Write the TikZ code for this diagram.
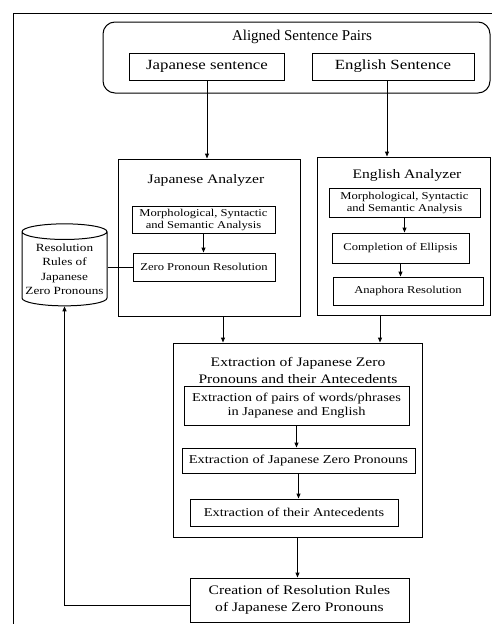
\documentclass[tikz,border=0pt]{standalone}
\usepackage{fontspec}
\setmainfont{Liberation Serif}
\newfontfamily\scanfont{Liberation Serif}[FakeStretch=1.2]
\usetikzlibrary{arrows.meta,shapes.geometric}

\tikzset{
  box/.style = {shape=rectangle, draw, align=center, inner sep=0pt},
  small/.style = {font=\scanfont\fontsize{10.5}{12}\selectfont},
  mid/.style = {font=\scanfont\fontsize{12}{14}\selectfont},
  big/.style = {font=\scanfont\fontsize{13}{17}\selectfont},
  arr/.style = {-{Triangle[length=5pt,width=4pt]}}
}

\begin{document}
\begin{tikzpicture}[x=1pt, y=-1pt, line width=1pt]
  \useasboundingbox (0,0) rectangle (492,624);
  \draw (13,624) -- (13,13) -- (492,13);

  % sentence pairs
  \node[box, rounded corners=12pt, minimum width=387pt, minimum height=71pt] (pairs) at (296.5,57.5) {};
  \node[font=\fontsize{15}{17}\selectfont] (pairstitle) at (302,37) {Aligned Sentence Pairs};
  \node[box, font=\scanfont\fontsize{14}{16}\selectfont, minimum width=155pt, minimum height=27pt] (jsent) at (207,66.5) {Japanese sentence};
  \node[box, font=\scanfont\fontsize{14}{16}\selectfont, minimum width=162pt, minimum height=27pt] (esent) at (393,66.5) {English Sentence};

  % analyzers
  \node[box, minimum width=182pt, minimum height=157pt] (jana) at (209,237.5) {};
  \node[big] (janatitle) at (206,180) {Japanese Analyzer};
  \node[box, small, minimum width=143pt, minimum height=27pt] (jmorph) at (203.5,219.5) {Morphological, Syntactic\\and Semantic Analysis};
  \node[box, small, minimum width=142pt, minimum height=28pt] (jzero) at (204,267) {Zero Pronoun Resolution};

  \node[box, minimum width=173pt, minimum height=158pt] (eana) at (403.5,236) {};
  \node[big] (eanatitle) at (407,175) {English Analyzer};
  \node[box, small, minimum width=151pt, minimum height=29pt] (emorph) at (404.5,202.5) {Morphological, Syntactic\\and Semantic Analysis};
  \node[box, small, minimum width=137pt, minimum height=30pt] (ecomp) at (400.5,248) {Completion of Ellipsis};
  \node[box, small, minimum width=150pt, minimum height=28pt] (eanaph) at (408,291) {Anaphora Resolution};

  % rule base
  \node[cylinder, shape border rotate=90, draw, aspect=0.2, minimum width=85pt, minimum height=82pt,
        align=center, inner sep=0pt, font=\scanfont\fontsize{11}{14.5}\selectfont] (rules) at (64.5,269)
        {Resolution\\Rules of\\Japanese\\Zero Pronouns};

  % extraction
  \node[box, minimum width=249pt, minimum height=194pt] (extr) at (297.5,440) {};
  \node[big, align=center] (extrtitle) at (298,370) {Extraction of Japanese Zero\\Pronouns and their Antecedents};
  \node[box, mid, minimum width=225pt, minimum height=39pt] (xpairs) at (296.5,405.5) {Extraction of pairs of words/phrases\\in Japanese and English};
  \node[box, mid, minimum width=233pt, minimum height=25pt] (xzero) at (298.5,460.5) {Extraction of Japanese Zero Pronouns};
  \node[box, mid, minimum width=208pt, minimum height=27pt] (xante) at (294,512.5) {Extraction of their Antecedents};

  \node[box, big, minimum width=219pt, minimum height=44pt] (create) at (299.5,600) {Creation of Resolution Rules\\of Japanese Zero Pronouns};

  % connectors
  \draw[arr] (jsent.south) -- (jsent.south |- jana.north);
  \draw[arr] ([xshift=-6pt]esent.south) -- ([xshift=-6pt]esent.south |- eana.north);
  \draw[arr] (jmorph.south) -- (jmorph.south |- jzero.north);
  \draw[arr] (emorph.south) -- (emorph.south |- ecomp.north);
  \draw[arr] (ecomp.south) -- (ecomp.south |- eanaph.north);
  \draw (jzero.west) -- (jzero.west -| rules.east);
  \draw[arr] ([xshift=14pt]jana.south) -- ([xshift=14pt]jana.south |- extr.north);
  \draw[arr] ([xshift=-23.5pt]eana.south) -- ([xshift=-23.5pt]eana.south |- extr.north);
  \draw[arr] (xpairs.south) -- (xpairs.south |- xzero.north);
  \draw[arr] (xzero.south) -- (xzero.south |- xante.north);
  \draw[arr] (extr.south) -- (extr.south |- create.north);
  \draw[arr] ([yshift=-5pt]create.west) -| (rules.south);
\end{tikzpicture}
\end{document}
